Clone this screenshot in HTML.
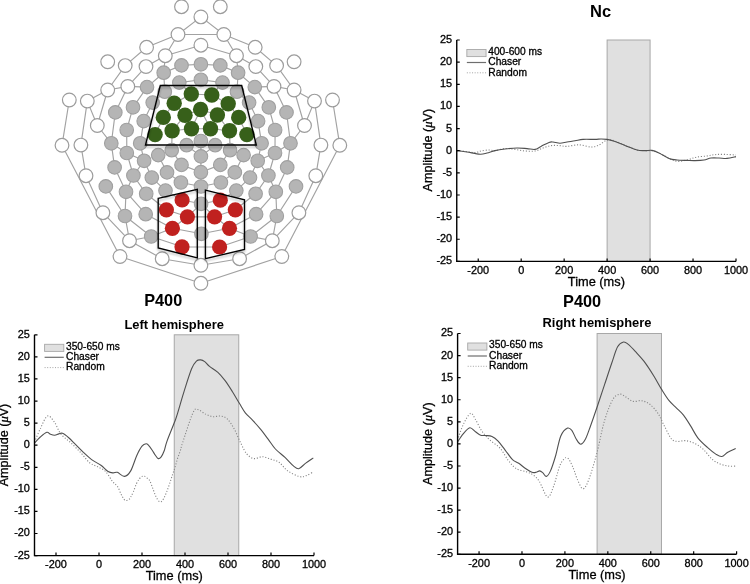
<!DOCTYPE html>
<html><head><meta charset="utf-8"><title>Figure</title>
<style>html,body{margin:0;padding:0;background:#fff;width:750px;height:584px;overflow:hidden}svg{display:block;will-change:transform}
text{font-family:"Liberation Sans",sans-serif;fill:#000}.t{stroke:#000;stroke-width:0.3}</style></head>
<body>
<svg width="750" height="584" viewBox="0 0 750 584">
<path d="M178 34.5L200.9 16.9M223.8 34.5L200.9 16.9M178 34.5L146.6 47.3M223.8 34.5L255.2 47.3M146.6 47.3L125.2 65.6M255.2 47.3L276.6 65.6M125.2 65.6L107.7 90M276.6 65.6L294.1 90M107.7 90L87.3 101.1M294.1 90L314.5 101.1M87.3 101.1L80.9 145.1M314.5 101.1L320.9 145.1M69.3 100L62 145.3M332.5 100L339.8 145.3M107.7 90L97.3 125.5M294.1 90L304.5 125.5M87.3 101.1L97.3 125.5M314.5 101.1L304.5 125.5M178 34.5L165.3 55.7M223.8 34.5L236.5 55.7M165.3 55.7L200.9 45.2M236.5 55.7L200.9 45.2M165.3 55.7L146 66.6M236.5 55.7L255.8 66.6M146 66.6L127.8 86.4M255.8 66.6L274 86.4M127.8 86.4L107.7 90M274 86.4L294.1 90M127.8 86.4L147 87.1M274 86.4L254.8 87.1M147 87.1L163.7 72.7M254.8 87.1L238.1 72.7M163.7 72.7L165.3 55.7M238.1 72.7L236.5 55.7M163.7 72.7L181.5 65.4M238.1 72.7L220.3 65.4M181.5 65.4L200.9 64.3M220.3 65.4L200.9 64.3M179.3 82.6L200.9 79.8M222.5 82.6L200.9 79.8M163.7 72.7L164.8 91.7M238.1 72.7L237 91.7M127.8 86.4L115.3 112.4M274 86.4L286.5 112.4M147 87.1L133 107.3M254.8 87.1L268.8 107.3M133 107.3L126.7 130M268.8 107.3L275.1 130M115.3 112.4L111.3 143.3M286.5 112.4L290.5 143.3M97.3 125.5L111.3 143.3M304.5 125.5L290.5 143.3M152.7 102.6L143.7 121.1M249.1 102.6L258.1 121.1M143.7 121.1L140.2 143.3M258.1 121.1L261.6 143.3M126.7 130L126.8 153M275.1 130L275 153M62 145.3L120 256.5M339.8 145.3L281.8 256.5M80.9 145.1L86 175.7M320.9 145.1L315.8 175.7M86 175.7L102.9 212.7M315.8 175.7L298.9 212.7M102.9 212.7L129.5 240.7M298.9 212.7L272.3 240.7M129.5 240.7L162.2 258.7M272.3 240.7L239.6 258.7M162.2 258.7L200.9 265.3M239.6 258.7L200.9 265.3M120 256.5L200.9 283.3M281.8 256.5L200.9 283.3M111.3 143.3L126.8 153M290.5 143.3L275 153M111.3 143.3L114.6 167.4M290.5 143.3L287.2 167.4M126.8 153L144.1 160.8M275 153L257.7 160.8M140.2 143.3L144.1 160.8M261.6 143.3L257.7 160.8M126.8 153L133.4 175.5M275 153L268.4 175.5M144.1 160.8L133.4 175.5M257.7 160.8L268.4 175.5M144.1 160.8L151.8 177.6M257.7 160.8L250 177.6M158.2 155.1L167 172.4M243.6 155.1L234.8 172.4M114.6 167.4L126 191.8M287.2 167.4L275.8 191.8M133.4 175.5L126 191.8M268.4 175.5L275.8 191.8M133.4 175.5L146.2 193.8M268.4 175.5L255.6 193.8M151.8 177.6L165.5 190.6M250 177.6L236.3 190.6M105.8 186.4L125 216M296 186.4L276.8 216M126 191.8L125 216M275.8 191.8L276.8 216M125 216L129.5 240.7M276.8 216L272.3 240.7M125 216L151.2 236.5M276.8 216L250.6 236.5M126 191.8L145.7 214.2M275.8 191.8L256.1 214.2M129.5 240.7L151.2 236.5M272.3 240.7L250.6 236.5M171.7 150.2L181.5 164.9M230.1 150.2L220.3 164.9M181.5 164.9L200.9 172.2M220.3 164.9L200.9 172.2M186.6 145.2L200.9 156.4M215.2 145.2L200.9 156.4M167 172.4L180.9 182.5M234.8 172.4L220.9 182.5M180.9 182.5L201 186.5M220.9 182.5L201 186.5M146.2 193.8L166.4 209.8M255.6 193.8L235.3 209.8M165.5 190.6L182.1 200M236.3 190.6L220.3 200.2M182.1 200L201.1 203.8M220.3 200.2L201.1 203.8M166.4 209.8L187.4 216.8M235.3 209.8L214.6 216.8M187.4 216.8L201.1 203.8M214.6 216.8L201.1 203.8M172.4 228.3L201.4 233.8M229.5 228.3L201.4 233.8M145.7 214.2L172.4 228.3M256.1 214.2L229.5 228.3M151.2 236.5L172.4 228.3M250.6 236.5L229.5 228.3M151.2 236.5L182 246.8M250.6 236.5L219.6 247M187.4 216.8L172.4 228.3M214.6 216.8L229.5 228.3M164.8 91.7L152.7 102.6M237 91.7L249.1 102.6M171.7 150.2L172.1 130.8M230.1 150.2L229.5 130.8M179.3 82.6L191.3 94M222.5 82.6L211.8 95M191.3 94L174.2 103.3M211.8 95L228.2 103.7M174.2 103.3L163.3 117.4M228.2 103.7L238.7 117.4M163.3 117.4L155.1 134.6M238.7 117.4L246.9 134.6M163.3 117.4L172.1 130.8M238.7 117.4L229.5 130.8M185 115.3L172.1 130.8M217.4 115L229.5 130.8M185 115.3L191.5 128.7M217.4 115L210.5 128.7M174.2 103.3L185 115.3M228.2 103.7L217.4 115M172.1 130.8L191.5 128.7M229.5 130.8L210.5 128.7M191.5 128.7L200.6 109.5M210.5 128.7L200.6 109.5M185 115.3L200.6 109.5M217.4 115L200.6 109.5M200.9 141L200.9 156.4M200.9 156.4L200.9 172.2M200.9 172.2L201 186.5M178 34.5L223.8 34.5M187.4 216.8L214.6 216.8M182 246.8L219.6 247M191.3 94L211.8 95M191.5 128.7L210.5 128.7" stroke="#a2a2a2" stroke-width="1.15" fill="none"/>
<circle cx="181.5" cy="6.7" r="6.85" fill="#fff" stroke="#9c9c9c" stroke-width="1.2"/>
<circle cx="220.3" cy="6.7" r="6.85" fill="#fff" stroke="#9c9c9c" stroke-width="1.2"/>
<circle cx="178" cy="34.5" r="6.85" fill="#fff" stroke="#9c9c9c" stroke-width="1.2"/>
<circle cx="223.8" cy="34.5" r="6.85" fill="#fff" stroke="#9c9c9c" stroke-width="1.2"/>
<circle cx="165.3" cy="55.7" r="6.85" fill="#fff" stroke="#9c9c9c" stroke-width="1.2"/>
<circle cx="236.5" cy="55.7" r="6.85" fill="#fff" stroke="#9c9c9c" stroke-width="1.2"/>
<circle cx="146.6" cy="47.3" r="6.85" fill="#fff" stroke="#9c9c9c" stroke-width="1.2"/>
<circle cx="255.2" cy="47.3" r="6.85" fill="#fff" stroke="#9c9c9c" stroke-width="1.2"/>
<circle cx="125.2" cy="65.6" r="6.85" fill="#fff" stroke="#9c9c9c" stroke-width="1.2"/>
<circle cx="276.6" cy="65.6" r="6.85" fill="#fff" stroke="#9c9c9c" stroke-width="1.2"/>
<circle cx="146" cy="66.6" r="6.85" fill="#fff" stroke="#9c9c9c" stroke-width="1.2"/>
<circle cx="255.8" cy="66.6" r="6.85" fill="#fff" stroke="#9c9c9c" stroke-width="1.2"/>
<circle cx="107.7" cy="61.8" r="6.85" fill="#fff" stroke="#9c9c9c" stroke-width="1.2"/>
<circle cx="294.1" cy="61.8" r="6.85" fill="#fff" stroke="#9c9c9c" stroke-width="1.2"/>
<circle cx="127.8" cy="86.4" r="6.85" fill="#fff" stroke="#9c9c9c" stroke-width="1.2"/>
<circle cx="274" cy="86.4" r="6.85" fill="#fff" stroke="#9c9c9c" stroke-width="1.2"/>
<circle cx="107.7" cy="90" r="6.85" fill="#fff" stroke="#9c9c9c" stroke-width="1.2"/>
<circle cx="294.1" cy="90" r="6.85" fill="#fff" stroke="#9c9c9c" stroke-width="1.2"/>
<circle cx="69.3" cy="100" r="6.85" fill="#fff" stroke="#9c9c9c" stroke-width="1.2"/>
<circle cx="332.5" cy="100" r="6.85" fill="#fff" stroke="#9c9c9c" stroke-width="1.2"/>
<circle cx="87.3" cy="101.1" r="6.85" fill="#fff" stroke="#9c9c9c" stroke-width="1.2"/>
<circle cx="314.5" cy="101.1" r="6.85" fill="#fff" stroke="#9c9c9c" stroke-width="1.2"/>
<circle cx="97.3" cy="125.5" r="6.85" fill="#fff" stroke="#9c9c9c" stroke-width="1.2"/>
<circle cx="304.5" cy="125.5" r="6.85" fill="#fff" stroke="#9c9c9c" stroke-width="1.2"/>
<circle cx="62" cy="145.3" r="6.85" fill="#fff" stroke="#9c9c9c" stroke-width="1.2"/>
<circle cx="339.8" cy="145.3" r="6.85" fill="#fff" stroke="#9c9c9c" stroke-width="1.2"/>
<circle cx="80.9" cy="145.1" r="6.85" fill="#fff" stroke="#9c9c9c" stroke-width="1.2"/>
<circle cx="320.9" cy="145.1" r="6.85" fill="#fff" stroke="#9c9c9c" stroke-width="1.2"/>
<circle cx="86" cy="175.7" r="6.85" fill="#fff" stroke="#9c9c9c" stroke-width="1.2"/>
<circle cx="315.8" cy="175.7" r="6.85" fill="#fff" stroke="#9c9c9c" stroke-width="1.2"/>
<circle cx="102.9" cy="212.7" r="6.85" fill="#fff" stroke="#9c9c9c" stroke-width="1.2"/>
<circle cx="298.9" cy="212.7" r="6.85" fill="#fff" stroke="#9c9c9c" stroke-width="1.2"/>
<circle cx="129.5" cy="240.7" r="6.85" fill="#fff" stroke="#9c9c9c" stroke-width="1.2"/>
<circle cx="272.3" cy="240.7" r="6.85" fill="#fff" stroke="#9c9c9c" stroke-width="1.2"/>
<circle cx="120" cy="256.5" r="6.85" fill="#fff" stroke="#9c9c9c" stroke-width="1.2"/>
<circle cx="281.8" cy="256.5" r="6.85" fill="#fff" stroke="#9c9c9c" stroke-width="1.2"/>
<circle cx="162.2" cy="258.7" r="6.85" fill="#fff" stroke="#9c9c9c" stroke-width="1.2"/>
<circle cx="239.6" cy="258.7" r="6.85" fill="#fff" stroke="#9c9c9c" stroke-width="1.2"/>
<circle cx="181.5" cy="65.4" r="6.8" fill="#b5b5b5" stroke="#a0a0a0" stroke-width="1.1"/>
<circle cx="220.3" cy="65.4" r="6.8" fill="#b5b5b5" stroke="#a0a0a0" stroke-width="1.1"/>
<circle cx="163.7" cy="72.7" r="6.8" fill="#b5b5b5" stroke="#a0a0a0" stroke-width="1.1"/>
<circle cx="238.1" cy="72.7" r="6.8" fill="#b5b5b5" stroke="#a0a0a0" stroke-width="1.1"/>
<circle cx="179.3" cy="82.6" r="6.8" fill="#b5b5b5" stroke="#a0a0a0" stroke-width="1.1"/>
<circle cx="222.5" cy="82.6" r="6.8" fill="#b5b5b5" stroke="#a0a0a0" stroke-width="1.1"/>
<circle cx="147" cy="87.1" r="6.8" fill="#b5b5b5" stroke="#a0a0a0" stroke-width="1.1"/>
<circle cx="254.8" cy="87.1" r="6.8" fill="#b5b5b5" stroke="#a0a0a0" stroke-width="1.1"/>
<circle cx="164.8" cy="91.7" r="6.8" fill="#b5b5b5" stroke="#a0a0a0" stroke-width="1.1"/>
<circle cx="237" cy="91.7" r="6.8" fill="#b5b5b5" stroke="#a0a0a0" stroke-width="1.1"/>
<circle cx="152.7" cy="102.6" r="6.8" fill="#b5b5b5" stroke="#a0a0a0" stroke-width="1.1"/>
<circle cx="249.1" cy="102.6" r="6.8" fill="#b5b5b5" stroke="#a0a0a0" stroke-width="1.1"/>
<circle cx="133" cy="107.3" r="6.8" fill="#b5b5b5" stroke="#a0a0a0" stroke-width="1.1"/>
<circle cx="268.8" cy="107.3" r="6.8" fill="#b5b5b5" stroke="#a0a0a0" stroke-width="1.1"/>
<circle cx="115.3" cy="112.4" r="6.8" fill="#b5b5b5" stroke="#a0a0a0" stroke-width="1.1"/>
<circle cx="286.5" cy="112.4" r="6.8" fill="#b5b5b5" stroke="#a0a0a0" stroke-width="1.1"/>
<circle cx="143.7" cy="121.1" r="6.8" fill="#b5b5b5" stroke="#a0a0a0" stroke-width="1.1"/>
<circle cx="258.1" cy="121.1" r="6.8" fill="#b5b5b5" stroke="#a0a0a0" stroke-width="1.1"/>
<circle cx="126.7" cy="130" r="6.8" fill="#b5b5b5" stroke="#a0a0a0" stroke-width="1.1"/>
<circle cx="275.1" cy="130" r="6.8" fill="#b5b5b5" stroke="#a0a0a0" stroke-width="1.1"/>
<circle cx="140.2" cy="143.3" r="6.8" fill="#b5b5b5" stroke="#a0a0a0" stroke-width="1.1"/>
<circle cx="261.6" cy="143.3" r="6.8" fill="#b5b5b5" stroke="#a0a0a0" stroke-width="1.1"/>
<circle cx="111.3" cy="143.3" r="6.8" fill="#b5b5b5" stroke="#a0a0a0" stroke-width="1.1"/>
<circle cx="290.5" cy="143.3" r="6.8" fill="#b5b5b5" stroke="#a0a0a0" stroke-width="1.1"/>
<circle cx="126.8" cy="153" r="6.8" fill="#b5b5b5" stroke="#a0a0a0" stroke-width="1.1"/>
<circle cx="275" cy="153" r="6.8" fill="#b5b5b5" stroke="#a0a0a0" stroke-width="1.1"/>
<circle cx="158.2" cy="155.1" r="6.8" fill="#b5b5b5" stroke="#a0a0a0" stroke-width="1.1"/>
<circle cx="243.6" cy="155.1" r="6.8" fill="#b5b5b5" stroke="#a0a0a0" stroke-width="1.1"/>
<circle cx="144.1" cy="160.8" r="6.8" fill="#b5b5b5" stroke="#a0a0a0" stroke-width="1.1"/>
<circle cx="257.7" cy="160.8" r="6.8" fill="#b5b5b5" stroke="#a0a0a0" stroke-width="1.1"/>
<circle cx="171.7" cy="150.2" r="6.8" fill="#b5b5b5" stroke="#a0a0a0" stroke-width="1.1"/>
<circle cx="230.1" cy="150.2" r="6.8" fill="#b5b5b5" stroke="#a0a0a0" stroke-width="1.1"/>
<circle cx="186.6" cy="145.2" r="6.8" fill="#b5b5b5" stroke="#a0a0a0" stroke-width="1.1"/>
<circle cx="215.2" cy="145.2" r="6.8" fill="#b5b5b5" stroke="#a0a0a0" stroke-width="1.1"/>
<circle cx="114.6" cy="167.4" r="6.8" fill="#b5b5b5" stroke="#a0a0a0" stroke-width="1.1"/>
<circle cx="287.2" cy="167.4" r="6.8" fill="#b5b5b5" stroke="#a0a0a0" stroke-width="1.1"/>
<circle cx="133.4" cy="175.5" r="6.8" fill="#b5b5b5" stroke="#a0a0a0" stroke-width="1.1"/>
<circle cx="268.4" cy="175.5" r="6.8" fill="#b5b5b5" stroke="#a0a0a0" stroke-width="1.1"/>
<circle cx="151.8" cy="177.6" r="6.8" fill="#b5b5b5" stroke="#a0a0a0" stroke-width="1.1"/>
<circle cx="250" cy="177.6" r="6.8" fill="#b5b5b5" stroke="#a0a0a0" stroke-width="1.1"/>
<circle cx="167" cy="172.4" r="6.8" fill="#b5b5b5" stroke="#a0a0a0" stroke-width="1.1"/>
<circle cx="234.8" cy="172.4" r="6.8" fill="#b5b5b5" stroke="#a0a0a0" stroke-width="1.1"/>
<circle cx="181.5" cy="164.9" r="6.8" fill="#b5b5b5" stroke="#a0a0a0" stroke-width="1.1"/>
<circle cx="220.3" cy="164.9" r="6.8" fill="#b5b5b5" stroke="#a0a0a0" stroke-width="1.1"/>
<circle cx="180.9" cy="182.5" r="6.8" fill="#b5b5b5" stroke="#a0a0a0" stroke-width="1.1"/>
<circle cx="220.9" cy="182.5" r="6.8" fill="#b5b5b5" stroke="#a0a0a0" stroke-width="1.1"/>
<circle cx="165.5" cy="190.6" r="6.8" fill="#b5b5b5" stroke="#a0a0a0" stroke-width="1.1"/>
<circle cx="236.3" cy="190.6" r="6.8" fill="#b5b5b5" stroke="#a0a0a0" stroke-width="1.1"/>
<circle cx="146.2" cy="193.8" r="6.8" fill="#b5b5b5" stroke="#a0a0a0" stroke-width="1.1"/>
<circle cx="255.6" cy="193.8" r="6.8" fill="#b5b5b5" stroke="#a0a0a0" stroke-width="1.1"/>
<circle cx="126" cy="191.8" r="6.8" fill="#b5b5b5" stroke="#a0a0a0" stroke-width="1.1"/>
<circle cx="275.8" cy="191.8" r="6.8" fill="#b5b5b5" stroke="#a0a0a0" stroke-width="1.1"/>
<circle cx="105.8" cy="186.4" r="6.8" fill="#b5b5b5" stroke="#a0a0a0" stroke-width="1.1"/>
<circle cx="296" cy="186.4" r="6.8" fill="#b5b5b5" stroke="#a0a0a0" stroke-width="1.1"/>
<circle cx="125" cy="216" r="6.8" fill="#b5b5b5" stroke="#a0a0a0" stroke-width="1.1"/>
<circle cx="276.8" cy="216" r="6.8" fill="#b5b5b5" stroke="#a0a0a0" stroke-width="1.1"/>
<circle cx="145.7" cy="214.2" r="6.8" fill="#b5b5b5" stroke="#a0a0a0" stroke-width="1.1"/>
<circle cx="256.1" cy="214.2" r="6.8" fill="#b5b5b5" stroke="#a0a0a0" stroke-width="1.1"/>
<circle cx="151.2" cy="236.5" r="6.8" fill="#b5b5b5" stroke="#a0a0a0" stroke-width="1.1"/>
<circle cx="250.6" cy="236.5" r="6.8" fill="#b5b5b5" stroke="#a0a0a0" stroke-width="1.1"/>
<circle cx="200.9" cy="16.9" r="6.85" fill="#fff" stroke="#9c9c9c" stroke-width="1.2"/>
<circle cx="200.9" cy="45.2" r="6.85" fill="#fff" stroke="#9c9c9c" stroke-width="1.2"/>
<circle cx="200.9" cy="64.3" r="6.8" fill="#b5b5b5" stroke="#a0a0a0" stroke-width="1.1"/>
<circle cx="200.9" cy="79.8" r="6.8" fill="#b5b5b5" stroke="#a0a0a0" stroke-width="1.1"/>
<circle cx="200.9" cy="141" r="6.8" fill="#b5b5b5" stroke="#a0a0a0" stroke-width="1.1"/>
<circle cx="200.9" cy="156.4" r="6.8" fill="#b5b5b5" stroke="#a0a0a0" stroke-width="1.1"/>
<circle cx="200.9" cy="172.2" r="6.8" fill="#b5b5b5" stroke="#a0a0a0" stroke-width="1.1"/>
<circle cx="201" cy="186.5" r="6.8" fill="#b5b5b5" stroke="#a0a0a0" stroke-width="1.1"/>
<circle cx="201.1" cy="203.8" r="6.8" fill="#b5b5b5" stroke="#a0a0a0" stroke-width="1.1"/>
<circle cx="201.4" cy="233.8" r="6.8" fill="#b5b5b5" stroke="#a0a0a0" stroke-width="1.1"/>
<circle cx="200.9" cy="265.3" r="6.85" fill="#fff" stroke="#9c9c9c" stroke-width="1.2"/>
<circle cx="200.9" cy="283.3" r="6.85" fill="#fff" stroke="#9c9c9c" stroke-width="1.2"/>
<circle cx="191.3" cy="94" r="7.7" fill="#37601a"/>
<circle cx="211.8" cy="95" r="7.7" fill="#37601a"/>
<circle cx="174.2" cy="103.3" r="7.7" fill="#37601a"/>
<circle cx="228.2" cy="103.7" r="7.7" fill="#37601a"/>
<circle cx="163.3" cy="117.4" r="7.7" fill="#37601a"/>
<circle cx="185" cy="115.3" r="7.7" fill="#37601a"/>
<circle cx="217.4" cy="115" r="7.7" fill="#37601a"/>
<circle cx="238.7" cy="117.4" r="7.7" fill="#37601a"/>
<circle cx="155.1" cy="134.6" r="7.7" fill="#37601a"/>
<circle cx="172.1" cy="130.8" r="7.7" fill="#37601a"/>
<circle cx="191.5" cy="128.7" r="7.7" fill="#37601a"/>
<circle cx="210.5" cy="128.7" r="7.7" fill="#37601a"/>
<circle cx="229.5" cy="130.8" r="7.7" fill="#37601a"/>
<circle cx="246.9" cy="134.6" r="7.7" fill="#37601a"/>
<circle cx="200.6" cy="109.5" r="7.7" fill="#37601a"/>
<circle cx="182.1" cy="200" r="7.6" fill="#c0211f"/>
<circle cx="166.4" cy="209.8" r="7.6" fill="#c0211f"/>
<circle cx="187.4" cy="216.8" r="7.6" fill="#c0211f"/>
<circle cx="172.4" cy="228.3" r="7.6" fill="#c0211f"/>
<circle cx="182" cy="246.8" r="7.6" fill="#c0211f"/>
<circle cx="220.3" cy="200.2" r="7.6" fill="#c0211f"/>
<circle cx="235.3" cy="209.8" r="7.6" fill="#c0211f"/>
<circle cx="214.6" cy="216.8" r="7.6" fill="#c0211f"/>
<circle cx="229.5" cy="228.3" r="7.6" fill="#c0211f"/>
<circle cx="219.6" cy="247" r="7.6" fill="#c0211f"/>
<defs><filter id="sh" x="-20%" y="-20%" width="140%" height="150%"><feGaussianBlur in="SourceAlpha" stdDeviation="1.3"/><feOffset dy="2.2"/><feComponentTransfer><feFuncA type="linear" slope="0.28"/></feComponentTransfer><feMerge><feMergeNode/><feMergeNode in="SourceGraphic"/></feMerge></filter></defs>
<g filter="url(#sh)" fill="none" stroke="#000" stroke-width="1.35">
<path d="M160.3 85.5L241.7 85.5L256.3 145L145.5 145Z"/>
<path d="M158.2 198.3L197.3 189.4L197.3 258L158.2 248Z"/>
<path d="M205.4 190.2L244.5 199.8L244.5 249.5L205.4 258.7Z"/>
</g>
<rect x="607.12" y="40" width="42.96" height="221.4" fill="#e0e0e0" stroke="#a8a8a8" stroke-width="1"/>
<path d="M457 150.6C458.5 150.75 463 151.17 466 151.5C469 151.83 472.5 152.68 475 152.6C477.5 152.52 478.67 151.43 481 151C483.33 150.57 486.67 150.07 489 150C491.33 149.93 492.33 150.85 495 150.6C497.67 150.35 501.67 148.7 505 148.5C508.33 148.3 511.67 148.98 515 149.4C518.33 149.82 521.67 150.73 525 151C528.33 151.27 532 151.5 535 151C538 150.5 540.33 148.9 543 148C545.67 147.1 548.33 146 551 145.6C553.67 145.2 556.33 145.47 559 145.6C561.67 145.73 563.67 146.53 567 146.4C570.33 146.27 575 144.7 579 144.8C583 144.9 587.67 146.97 591 147C594.33 147.03 596.67 146 599 145C601.33 144 603.33 141.83 605 141C606.67 140.17 607.33 140 609 140C610.67 140 612.33 140.1 615 141C617.67 141.9 621.33 143.9 625 145.4C628.67 146.9 633.67 149.13 637 150C640.33 150.87 642.33 150.43 645 150.6C647.67 150.77 650.33 150.43 653 151C655.67 151.57 658 152.6 661 154C664 155.4 668 158.17 671 159.4C674 160.63 676 161.4 679 161.4C682 161.4 686 160.13 689 159.4C692 158.67 694 157.57 697 157C700 156.43 704 156.4 707 156C710 155.6 712 154.87 715 154.6C718 154.33 721.5 154.33 725 154.4C728.5 154.47 734.17 154.9 736 155" fill="none" stroke="#858585" stroke-width="1.1" stroke-dasharray="1.1 1.8"/>
<path d="M457 150.6C458.67 150.83 463.17 151.4 467 152C470.83 152.6 476.67 154.03 480 154.2C483.33 154.37 484.5 153.6 487 153C489.5 152.4 492 151.27 495 150.6C498 149.93 501.33 149.43 505 149C508.67 148.57 513.33 148.07 517 148C520.67 147.93 524 148.37 527 148.6C530 148.83 532.67 149.77 535 149.4C537.33 149.03 538.67 147.57 541 146.4C543.33 145.23 547 143.13 549 142.4C551 141.67 551.17 141.87 553 142C554.83 142.13 557.67 143.2 560 143.2C562.33 143.2 564.5 142.4 567 142C569.5 141.6 572.33 141.23 575 140.8C577.67 140.37 579.67 139.63 583 139.4C586.33 139.17 592 139.47 595 139.4C598 139.33 599 139 601 139C603 139 604.67 138.97 607 139.4C609.33 139.83 612 140.6 615 141.6C618 142.6 621.33 144 625 145.4C628.67 146.8 633.67 149.13 637 150C640.33 150.87 642.5 150.53 645 150.6C647.5 150.67 649.67 150 652 150.4C654.33 150.8 656.17 151.67 659 153C661.83 154.33 666 157.23 669 158.4C672 159.57 674 159.67 677 160C680 160.33 684 160.3 687 160.4C690 160.5 692.17 160.67 695 160.6C697.83 160.53 701.33 160.43 704 160C706.67 159.57 708.5 158.33 711 158C713.5 157.67 716.33 157.93 719 158C721.67 158.07 724.17 158.63 727 158.4C729.83 158.17 734.5 156.9 736 156.6" fill="none" stroke="#505050" stroke-width="1.1"/>
<path d="M456.75 40L456.75 261.4L736 261.4" fill="none" stroke="#000" stroke-width="1.4"/>
<path d="M456.75 40L459.75 40M456.75 62.14L459.75 62.14M456.75 84.28L459.75 84.28M456.75 106.42L459.75 106.42M456.75 128.56L459.75 128.56M456.75 150.7L459.75 150.7M456.75 172.84L459.75 172.84M456.75 194.98L459.75 194.98M456.75 217.12L459.75 217.12M456.75 239.26L459.75 239.26M456.75 261.4L459.75 261.4M478.23 261.4L478.23 258.4M521.19 261.4L521.19 258.4M564.15 261.4L564.15 258.4M607.12 261.4L607.12 258.4M650.08 261.4L650.08 258.4M693.04 261.4L693.04 258.4M736 261.4L736 258.4" stroke="#000" stroke-width="1.2"/>
<text class="t" x="452.15" y="42.95" text-anchor="end" font-size="10.9" font-family="'Liberation Sans', sans-serif">25</text>
<text class="t" x="452.15" y="65.09" text-anchor="end" font-size="10.9" font-family="'Liberation Sans', sans-serif">20</text>
<text class="t" x="452.15" y="87.23" text-anchor="end" font-size="10.9" font-family="'Liberation Sans', sans-serif">15</text>
<text class="t" x="452.15" y="109.37" text-anchor="end" font-size="10.9" font-family="'Liberation Sans', sans-serif">10</text>
<text class="t" x="452.15" y="131.51" text-anchor="end" font-size="10.9" font-family="'Liberation Sans', sans-serif">5</text>
<text class="t" x="452.15" y="153.65" text-anchor="end" font-size="10.9" font-family="'Liberation Sans', sans-serif">0</text>
<text class="t" x="452.15" y="175.79" text-anchor="end" font-size="10.9" font-family="'Liberation Sans', sans-serif">-5</text>
<text class="t" x="452.15" y="197.93" text-anchor="end" font-size="10.9" font-family="'Liberation Sans', sans-serif">-10</text>
<text class="t" x="452.15" y="220.07" text-anchor="end" font-size="10.9" font-family="'Liberation Sans', sans-serif">-15</text>
<text class="t" x="452.15" y="242.21" text-anchor="end" font-size="10.9" font-family="'Liberation Sans', sans-serif">-20</text>
<text class="t" x="452.15" y="264.35" text-anchor="end" font-size="10.9" font-family="'Liberation Sans', sans-serif">-25</text>
<text class="t" x="478.23" y="274.2" text-anchor="middle" font-size="10.9" font-family="'Liberation Sans', sans-serif">-200</text>
<text class="t" x="521.19" y="274.2" text-anchor="middle" font-size="10.9" font-family="'Liberation Sans', sans-serif">0</text>
<text class="t" x="564.15" y="274.2" text-anchor="middle" font-size="10.9" font-family="'Liberation Sans', sans-serif">200</text>
<text class="t" x="607.12" y="274.2" text-anchor="middle" font-size="10.9" font-family="'Liberation Sans', sans-serif">400</text>
<text class="t" x="650.08" y="274.2" text-anchor="middle" font-size="10.9" font-family="'Liberation Sans', sans-serif">600</text>
<text class="t" x="693.04" y="274.2" text-anchor="middle" font-size="10.9" font-family="'Liberation Sans', sans-serif">800</text>
<text class="t" x="736" y="274.2" text-anchor="middle" font-size="10.9" font-family="'Liberation Sans', sans-serif">1000</text>
<text class="t" x="596.38" y="285.7" text-anchor="middle" font-size="12.8" font-family="'Liberation Sans', sans-serif">Time (ms)</text>
<text class="t" transform="translate(431.6 150.2) rotate(-90)" text-anchor="middle" font-size="12.6" font-family="'Liberation Sans', sans-serif">Amplitude (<tspan font-style="italic" style="font-family:'Liberation Serif',serif">μ</tspan>V)</text>
<rect x="466.85" y="49.5" width="19.2" height="7.1" fill="#e0e0e0" stroke="#a8a8a8" stroke-width="0.9"/>
<path d="M466.85 62.5h19.2" stroke="#6e6e6e" stroke-width="1.2"/>
<path d="M466.85 72.8h19.2" stroke="#9a9a9a" stroke-width="0.9" stroke-dasharray="1 1.6"/>
<text class="t" x="488.25" y="54.8" font-size="10" font-family="'Liberation Sans', sans-serif" textLength="53.8" lengthAdjust="spacingAndGlyphs">400-600 ms</text>
<text class="t" x="488.25" y="65.2" font-size="10" font-family="'Liberation Sans', sans-serif" textLength="33" lengthAdjust="spacingAndGlyphs">Chaser</text>
<text class="t" x="488.25" y="75.6" font-size="10" font-family="'Liberation Sans', sans-serif" textLength="38.8" lengthAdjust="spacingAndGlyphs">Random</text>
<rect x="174.25" y="334.8" width="64.5" height="220.8" fill="#e0e0e0" stroke="#a8a8a8" stroke-width="1"/>
<path d="M34.5 442.1C35.47 439.88 38.13 433.15 40.3 428.8C42.47 424.45 45.1 417.03 47.5 416C49.9 414.97 52.48 419.62 54.7 422.6C56.92 425.58 58.07 430.48 60.8 433.9C63.53 437.32 67.67 439.85 71.1 443.1C74.53 446.35 78.32 450.13 81.4 453.4C84.48 456.67 86.87 460.47 89.6 462.7C92.33 464.93 95.07 465.27 97.8 466.8C100.53 468.33 103.57 469.47 106 471.9C108.43 474.33 110.48 478.97 112.4 481.4C114.32 483.83 116.05 484.35 117.5 486.5C118.95 488.65 120 492.17 121.1 494.3C122.2 496.43 123.25 498.27 124.1 499.3C124.95 500.33 125.35 500.5 126.2 500.5C127.05 500.5 128.4 499.95 129.2 499.3C130 498.65 130.3 497.88 131 496.6C131.7 495.32 132.5 493.73 133.4 491.6C134.3 489.47 135.4 485.95 136.4 483.8C137.4 481.65 138.4 479.95 139.4 478.7C140.4 477.45 141.52 476.7 142.4 476.3C143.28 475.9 143.87 475.95 144.7 476.3C145.53 476.65 146.55 477.67 147.4 478.4C148.25 479.13 148.9 479.02 149.8 480.7C150.7 482.38 151.8 485.9 152.8 488.5C153.8 491.1 154.8 494.2 155.8 496.3C156.8 498.4 157.9 500.2 158.8 501.1C159.7 502 160.4 502.1 161.2 501.7C162 501.3 162.7 500.3 163.6 498.7C164.5 497.1 165.6 494.6 166.6 492.1C167.6 489.6 168.62 486.6 169.6 483.7C170.58 480.8 171.6 477.4 172.5 474.7C173.4 472 174.2 470.08 175 467.5C175.8 464.92 176.42 461.98 177.3 459.2C178.18 456.42 179.4 453.6 180.3 450.8C181.2 448 180.62 448.68 182.7 442.4C184.78 436.12 190.32 418.58 192.8 413.1C195.28 407.62 195.42 409.3 197.6 409.5C199.78 409.7 203.32 413.1 205.9 414.3C208.48 415.5 210.7 416.42 213.1 416.7C215.5 416.98 217.9 415.6 220.3 416C222.7 416.4 225.1 416.78 227.5 419.1C229.9 421.42 232.5 425.92 234.7 429.9C236.9 433.88 238.7 439.02 240.7 443C242.7 446.98 244.5 451.2 246.7 453.8C248.9 456.4 251.3 458.12 253.9 458.6C256.5 459.08 259.52 456.62 262.3 456.7C265.08 456.78 267.82 458.18 270.6 459.1C273.38 460.02 276.2 460.28 279 462.2C281.8 464.12 284 468.2 287.4 470.6C290.8 473 296.2 475.8 299.4 476.6C302.6 477.4 304.28 476.2 306.6 475.4C308.92 474.6 312.18 472.4 313.3 471.8" fill="none" stroke="#858585" stroke-width="1.1" stroke-dasharray="1.1 1.8"/>
<path d="M34.5 443.1C35.47 442.08 38.25 438.8 40.3 437C42.35 435.2 45.1 432.75 46.8 432.3C48.5 431.85 49.18 433.8 50.5 434.3C51.82 434.8 53.32 435.37 54.7 435.3C56.08 435.23 57.5 434.23 58.8 433.9C60.1 433.57 60.8 432.62 62.5 433.3C64.2 433.98 66.88 436.18 69 438C71.12 439.82 72.8 441.8 75.2 444.2C77.6 446.6 80.67 449.83 83.4 452.4C86.13 454.97 88.68 457.45 91.6 459.6C94.52 461.75 98.15 463.32 100.9 465.3C103.65 467.28 106.05 470.23 108.1 471.5C110.15 472.77 111.67 472.77 113.2 472.9C114.73 473.03 115.42 471.72 117.3 472.3C119.18 472.88 122.27 476.63 124.5 476.4C126.73 476.17 128.65 474.38 130.7 470.9C132.75 467.42 134.92 459.62 136.8 455.5C138.68 451.38 140.45 448.15 142 446.2C143.55 444.25 145 443.93 146.1 443.8C147.2 443.67 147.58 444.33 148.6 445.4C149.62 446.47 151.1 448.6 152.2 450.2C153.3 451.8 154.2 453.6 155.2 455C156.2 456.4 157.2 458.3 158.2 458.6C159.2 458.9 160.2 458.1 161.2 456.8C162.2 455.5 163.2 453.5 164.2 450.8C165.2 448.1 165.25 445.98 167.2 440.6C169.15 435.22 173.77 424.42 175.9 418.5C178.03 412.58 178.58 409.8 180 405.1C181.42 400.4 182.47 396.35 184.4 390.3C186.33 384.25 189.6 373.67 191.6 368.8C193.6 363.93 194.88 362.58 196.4 361.1C197.92 359.62 199.32 359.82 200.7 359.9C202.08 359.98 203.23 360.52 204.7 361.6C206.17 362.68 207.3 364.6 209.5 366.4C211.7 368.2 215.3 370.02 217.9 372.4C220.5 374.78 222.7 377.52 225.1 380.7C227.5 383.88 229.9 387.7 232.3 391.5C234.7 395.3 237.3 399.9 239.5 403.5C241.7 407.1 243.3 410.3 245.5 413.1C247.7 415.9 250.1 417.5 252.7 420.3C255.3 423.1 258.5 426.72 261.1 429.9C263.7 433.08 265.92 436.22 268.3 439.4C270.68 442.58 272.62 446 275.4 449C278.18 452 282 454.6 285 457.4C288 460.2 291.12 463.92 293.4 465.8C295.68 467.68 296.7 469.1 298.7 468.7C300.7 468.3 302.97 465.2 305.4 463.4C307.83 461.6 311.98 458.82 313.3 457.9" fill="none" stroke="#505050" stroke-width="1.1"/>
<path d="M34.5 334.8L34.5 555.6L314 555.6" fill="none" stroke="#000" stroke-width="1.4"/>
<path d="M34.5 334.8L37.5 334.8M34.5 356.88L37.5 356.88M34.5 378.96L37.5 378.96M34.5 401.04L37.5 401.04M34.5 423.12L37.5 423.12M34.5 445.2L37.5 445.2M34.5 467.28L37.5 467.28M34.5 489.36L37.5 489.36M34.5 511.44L37.5 511.44M34.5 533.52L37.5 533.52M34.5 555.6L37.5 555.6M56 555.6L56 552.6M99 555.6L99 552.6M142 555.6L142 552.6M185 555.6L185 552.6M228 555.6L228 552.6M271 555.6L271 552.6M314 555.6L314 552.6" stroke="#000" stroke-width="1.2"/>
<text class="t" x="29.9" y="337.75" text-anchor="end" font-size="10.9" font-family="'Liberation Sans', sans-serif">25</text>
<text class="t" x="29.9" y="359.83" text-anchor="end" font-size="10.9" font-family="'Liberation Sans', sans-serif">20</text>
<text class="t" x="29.9" y="381.91" text-anchor="end" font-size="10.9" font-family="'Liberation Sans', sans-serif">15</text>
<text class="t" x="29.9" y="403.99" text-anchor="end" font-size="10.9" font-family="'Liberation Sans', sans-serif">10</text>
<text class="t" x="29.9" y="426.07" text-anchor="end" font-size="10.9" font-family="'Liberation Sans', sans-serif">5</text>
<text class="t" x="29.9" y="448.15" text-anchor="end" font-size="10.9" font-family="'Liberation Sans', sans-serif">0</text>
<text class="t" x="29.9" y="470.23" text-anchor="end" font-size="10.9" font-family="'Liberation Sans', sans-serif">-5</text>
<text class="t" x="29.9" y="492.31" text-anchor="end" font-size="10.9" font-family="'Liberation Sans', sans-serif">-10</text>
<text class="t" x="29.9" y="514.39" text-anchor="end" font-size="10.9" font-family="'Liberation Sans', sans-serif">-15</text>
<text class="t" x="29.9" y="536.47" text-anchor="end" font-size="10.9" font-family="'Liberation Sans', sans-serif">-20</text>
<text class="t" x="29.9" y="558.55" text-anchor="end" font-size="10.9" font-family="'Liberation Sans', sans-serif">-25</text>
<text class="t" x="56" y="568.4" text-anchor="middle" font-size="10.9" font-family="'Liberation Sans', sans-serif">-200</text>
<text class="t" x="99" y="568.4" text-anchor="middle" font-size="10.9" font-family="'Liberation Sans', sans-serif">0</text>
<text class="t" x="142" y="568.4" text-anchor="middle" font-size="10.9" font-family="'Liberation Sans', sans-serif">200</text>
<text class="t" x="185" y="568.4" text-anchor="middle" font-size="10.9" font-family="'Liberation Sans', sans-serif">400</text>
<text class="t" x="228" y="568.4" text-anchor="middle" font-size="10.9" font-family="'Liberation Sans', sans-serif">600</text>
<text class="t" x="271" y="568.4" text-anchor="middle" font-size="10.9" font-family="'Liberation Sans', sans-serif">800</text>
<text class="t" x="314" y="568.4" text-anchor="middle" font-size="10.9" font-family="'Liberation Sans', sans-serif">1000</text>
<text class="t" x="174.25" y="579.9" text-anchor="middle" font-size="12.8" font-family="'Liberation Sans', sans-serif">Time (ms)</text>
<text class="t" transform="translate(8.1 445) rotate(-90)" text-anchor="middle" font-size="12.6" font-family="'Liberation Sans', sans-serif">Amplitude (<tspan font-style="italic" style="font-family:'Liberation Serif',serif">μ</tspan>V)</text>
<rect x="44.6" y="344.3" width="19.2" height="7.1" fill="#e0e0e0" stroke="#a8a8a8" stroke-width="0.9"/>
<path d="M44.6 357.3h19.2" stroke="#6e6e6e" stroke-width="1.2"/>
<path d="M44.6 367.6h19.2" stroke="#9a9a9a" stroke-width="0.9" stroke-dasharray="1 1.6"/>
<text class="t" x="66" y="349.6" font-size="10" font-family="'Liberation Sans', sans-serif" textLength="53.8" lengthAdjust="spacingAndGlyphs">350-650 ms</text>
<text class="t" x="66" y="360" font-size="10" font-family="'Liberation Sans', sans-serif" textLength="33" lengthAdjust="spacingAndGlyphs">Chaser</text>
<text class="t" x="66" y="370.4" font-size="10" font-family="'Liberation Sans', sans-serif" textLength="38.8" lengthAdjust="spacingAndGlyphs">Random</text>
<rect x="597.1" y="333.5" width="64.38" height="220.8" fill="#e0e0e0" stroke="#a8a8a8" stroke-width="1"/>
<path d="M457.5 440.1C458.45 437.53 461.05 429.15 463.2 424.7C465.35 420.25 468.35 414.27 470.4 413.4C472.45 412.53 473.62 416.6 475.5 419.5C477.38 422.4 479.3 427.37 481.7 430.8C484.1 434.23 486.82 437.18 489.9 440.1C492.98 443.02 497.12 444.88 500.2 448.3C503.28 451.72 505.67 457.18 508.4 460.6C511.13 464.02 513.52 466.92 516.6 468.8C519.68 470.68 524.15 470.87 526.9 471.9C529.65 472.93 531.05 473.45 533.1 475C535.15 476.55 536.8 477.53 539.2 481.2C541.6 484.87 545.1 496.15 547.5 497C549.9 497.85 551.55 491.52 553.6 486.3C555.65 481.08 557.98 470.32 559.8 465.7C561.62 461.08 563.43 459.9 564.5 458.6C565.57 457.3 565.55 457.88 566.2 457.9C566.85 457.92 567.75 458.15 568.4 458.7C569.05 459.25 569.42 459.93 570.1 461.2C570.78 462.47 571.77 464.6 572.5 466.3C573.23 468 573.7 469.25 574.5 471.4C575.3 473.55 575.92 476.3 577.3 479.2C578.68 482.1 580.92 488.65 582.8 488.8C584.68 488.95 586.27 486 588.6 480.1C590.93 474.2 594.17 463.23 596.8 453.4C599.43 443.57 601.73 430.08 604.4 421.1C607.07 412.12 610.2 403.98 612.8 399.5C615.4 395.02 617.8 394.6 620 394.2C622.2 393.8 623.82 395.9 626 397.1C628.18 398.3 630.52 400.8 633.1 401.4C635.68 402 638.7 400.22 641.5 400.7C644.3 401.18 647.1 402.1 649.9 404.3C652.7 406.5 655.9 410.3 658.3 413.9C660.7 417.5 662.1 421.72 664.3 425.9C666.5 430.08 669.3 436.42 671.5 439C673.7 441.58 675.1 441.12 677.5 441.4C679.9 441.68 682.92 440.3 685.9 440.7C688.88 441.1 692.42 442.28 695.4 443.8C698.38 445.32 701 447.2 703.8 449.8C706.6 452.4 709.4 457 712.2 459.4C715 461.8 717.8 463.08 720.6 464.2C723.4 465.32 726.48 465.78 729 466.1C731.52 466.42 734.58 466.1 735.7 466.1" fill="none" stroke="#858585" stroke-width="1.1" stroke-dasharray="1.1 1.8"/>
<path d="M457.5 442.1C458.45 440.73 461.15 436.3 463.2 433.9C465.25 431.5 467.75 428.05 469.8 427.7C471.85 427.35 473.68 430.53 475.5 431.8C477.32 433.07 478.98 434.68 480.7 435.3C482.42 435.92 483.92 435.32 485.8 435.5C487.68 435.68 489.95 435.47 492 436.4C494.05 437.33 495.88 438.78 498.1 441.1C500.32 443.42 502.9 447.22 505.3 450.3C507.7 453.38 510.27 457.43 512.5 459.6C514.73 461.77 516.47 461.77 518.7 463.3C520.93 464.83 523.68 467.3 525.9 468.8C528.12 470.3 530.28 471.72 532 472.3C533.72 472.88 534.92 472.53 536.2 472.3C537.48 472.07 538.58 470.8 539.7 470.9C540.82 471 541.78 471.98 542.9 472.9C544.02 473.82 545.13 476.73 546.4 476.4C547.67 476.07 548.95 474.38 550.5 470.9C552.05 467.42 553.98 461.32 555.7 455.5C557.42 449.68 558.82 440.57 560.8 436C562.78 431.43 565.72 428.97 567.6 428.1C569.48 427.23 570.67 428.98 572.1 430.8C573.53 432.62 574.77 436.77 576.2 439C577.63 441.23 579.15 444.2 580.7 444.2C582.25 444.2 583.85 442.08 585.5 439C587.15 435.92 588.65 431.08 590.6 425.7C592.55 420.32 594.9 413.47 597.2 406.7C599.5 399.93 602 392.3 604.4 385.1C606.8 377.9 609.4 369.88 611.6 363.5C613.8 357.12 615.62 350.38 617.6 346.8C619.58 343.22 621.72 342.4 623.5 342C625.28 341.6 626.3 342.8 628.3 344.4C630.3 346 632.9 348.8 635.5 351.6C638.1 354.4 640.9 357.22 643.9 361.2C646.9 365.18 650.5 370.72 653.5 375.5C656.5 380.28 659.3 385.7 661.9 389.9C664.5 394.1 666.7 397.7 669.1 400.7C671.5 403.7 673.9 405.5 676.3 407.9C678.7 410.3 681.12 412.1 683.5 415.1C685.88 418.1 688.22 422.12 690.6 425.9C692.98 429.68 695 434.22 697.8 437.8C700.6 441.38 704.4 444.68 707.4 447.4C710.4 450.12 713.4 452.58 715.8 454.1C718.2 455.62 719.8 456.82 721.8 456.5C723.8 456.18 725.48 453.52 727.8 452.2C730.12 450.88 734.38 449.2 735.7 448.6" fill="none" stroke="#505050" stroke-width="1.1"/>
<path d="M457.6 333.5L457.6 554.3L736.6 554.3" fill="none" stroke="#000" stroke-width="1.4"/>
<path d="M457.6 333.5L460.6 333.5M457.6 355.58L460.6 355.58M457.6 377.66L460.6 377.66M457.6 399.74L460.6 399.74M457.6 421.82L460.6 421.82M457.6 443.9L460.6 443.9M457.6 465.98L460.6 465.98M457.6 488.06L460.6 488.06M457.6 510.14L460.6 510.14M457.6 532.22L460.6 532.22M457.6 554.3L460.6 554.3M479.06 554.3L479.06 551.3M521.98 554.3L521.98 551.3M564.91 554.3L564.91 551.3M607.83 554.3L607.83 551.3M650.75 554.3L650.75 551.3M693.68 554.3L693.68 551.3M736.6 554.3L736.6 551.3" stroke="#000" stroke-width="1.2"/>
<text class="t" x="453" y="336.45" text-anchor="end" font-size="10.9" font-family="'Liberation Sans', sans-serif">25</text>
<text class="t" x="453" y="358.53" text-anchor="end" font-size="10.9" font-family="'Liberation Sans', sans-serif">20</text>
<text class="t" x="453" y="380.61" text-anchor="end" font-size="10.9" font-family="'Liberation Sans', sans-serif">15</text>
<text class="t" x="453" y="402.69" text-anchor="end" font-size="10.9" font-family="'Liberation Sans', sans-serif">10</text>
<text class="t" x="453" y="424.77" text-anchor="end" font-size="10.9" font-family="'Liberation Sans', sans-serif">5</text>
<text class="t" x="453" y="446.85" text-anchor="end" font-size="10.9" font-family="'Liberation Sans', sans-serif">0</text>
<text class="t" x="453" y="468.93" text-anchor="end" font-size="10.9" font-family="'Liberation Sans', sans-serif">-5</text>
<text class="t" x="453" y="491.01" text-anchor="end" font-size="10.9" font-family="'Liberation Sans', sans-serif">-10</text>
<text class="t" x="453" y="513.09" text-anchor="end" font-size="10.9" font-family="'Liberation Sans', sans-serif">-15</text>
<text class="t" x="453" y="535.17" text-anchor="end" font-size="10.9" font-family="'Liberation Sans', sans-serif">-20</text>
<text class="t" x="453" y="557.25" text-anchor="end" font-size="10.9" font-family="'Liberation Sans', sans-serif">-25</text>
<text class="t" x="479.06" y="567.1" text-anchor="middle" font-size="10.9" font-family="'Liberation Sans', sans-serif">-200</text>
<text class="t" x="521.98" y="567.1" text-anchor="middle" font-size="10.9" font-family="'Liberation Sans', sans-serif">0</text>
<text class="t" x="564.91" y="567.1" text-anchor="middle" font-size="10.9" font-family="'Liberation Sans', sans-serif">200</text>
<text class="t" x="607.83" y="567.1" text-anchor="middle" font-size="10.9" font-family="'Liberation Sans', sans-serif">400</text>
<text class="t" x="650.75" y="567.1" text-anchor="middle" font-size="10.9" font-family="'Liberation Sans', sans-serif">600</text>
<text class="t" x="693.68" y="567.1" text-anchor="middle" font-size="10.9" font-family="'Liberation Sans', sans-serif">800</text>
<text class="t" x="736.6" y="567.1" text-anchor="middle" font-size="10.9" font-family="'Liberation Sans', sans-serif">1000</text>
<text class="t" x="597.1" y="578.6" text-anchor="middle" font-size="12.8" font-family="'Liberation Sans', sans-serif">Time (ms)</text>
<text class="t" transform="translate(432.4 443.7) rotate(-90)" text-anchor="middle" font-size="12.6" font-family="'Liberation Sans', sans-serif">Amplitude (<tspan font-style="italic" style="font-family:'Liberation Serif',serif">μ</tspan>V)</text>
<rect x="467.7" y="343" width="19.2" height="7.1" fill="#e0e0e0" stroke="#a8a8a8" stroke-width="0.9"/>
<path d="M467.7 356h19.2" stroke="#6e6e6e" stroke-width="1.2"/>
<path d="M467.7 366.3h19.2" stroke="#9a9a9a" stroke-width="0.9" stroke-dasharray="1 1.6"/>
<text class="t" x="489.1" y="348.3" font-size="10" font-family="'Liberation Sans', sans-serif" textLength="53.8" lengthAdjust="spacingAndGlyphs">350-650 ms</text>
<text class="t" x="489.1" y="358.7" font-size="10" font-family="'Liberation Sans', sans-serif" textLength="33" lengthAdjust="spacingAndGlyphs">Chaser</text>
<text class="t" x="489.1" y="369.1" font-size="10" font-family="'Liberation Sans', sans-serif" textLength="38.8" lengthAdjust="spacingAndGlyphs">Random</text>
<text x="600.6" y="16.7" text-anchor="middle" font-size="16.5" font-weight="bold" font-family="'Liberation Sans', sans-serif">Nc</text>
<text x="163.2" y="305.6" text-anchor="middle" font-size="16.3" font-weight="bold" font-family="'Liberation Sans', sans-serif">P400</text>
<text x="582.1" y="307.1" text-anchor="middle" font-size="16.3" font-weight="bold" font-family="'Liberation Sans', sans-serif">P400</text>
<text x="174.2" y="328.6" text-anchor="middle" font-size="12.9" font-weight="bold" font-family="'Liberation Sans', sans-serif">Left hemisphere</text>
<text x="597" y="327.4" text-anchor="middle" font-size="12.9" font-weight="bold" font-family="'Liberation Sans', sans-serif">Right hemisphere</text>
</svg>
</body></html>
